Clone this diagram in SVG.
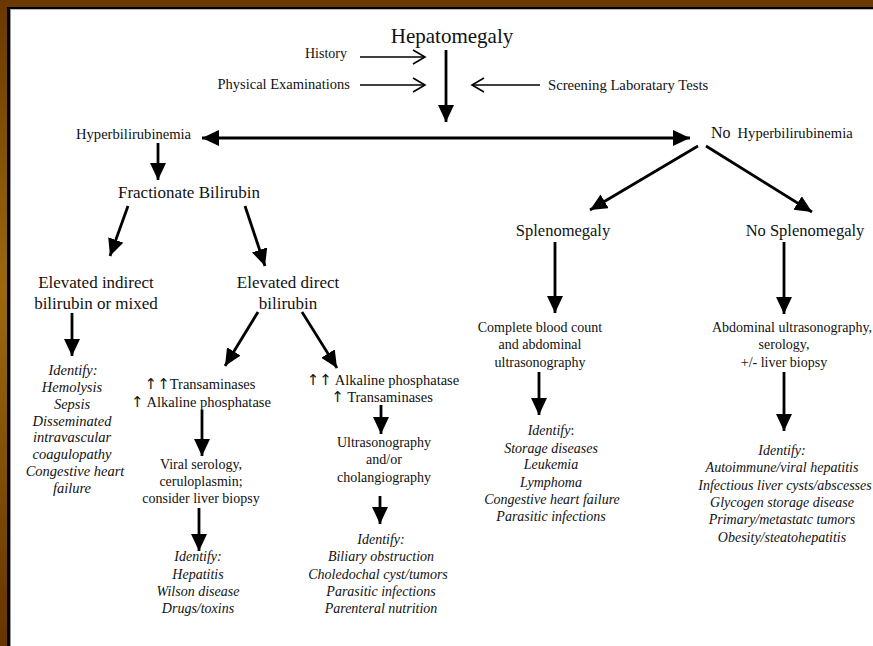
<svg xmlns="http://www.w3.org/2000/svg" width="873" height="646" viewBox="0 0 873 646">
<defs>
<linearGradient id="lb" x1="0" y1="0" x2="0" y2="1">
<stop offset="0" stop-color="#6a3800"/>
<stop offset="0.45" stop-color="#9c6a0c"/>
<stop offset="1" stop-color="#663400"/>
</linearGradient>
<marker id="ah" markerUnits="userSpaceOnUse" markerWidth="20" markerHeight="18" refX="17" refY="8" orient="auto">
<path d="M0,0 L17,8 L0,16 z" fill="#000"/>
</marker>
<marker id="ahs" markerUnits="userSpaceOnUse" markerWidth="20" markerHeight="18" refX="0" refY="8" orient="auto">
<path d="M17,0 L0,8 L17,16 z" fill="#000"/>
</marker>
<marker id="oh" markerUnits="userSpaceOnUse" markerWidth="16" markerHeight="18" refX="13" refY="8" orient="auto">
<path d="M1,1 L13,8 L1,15" fill="none" stroke="#000" stroke-width="1.6"/>
</marker>
</defs>
<style>
text{font-family:"Liberation Serif","Times New Roman",serif;fill:#111}
.it{font-style:italic}
.c{text-anchor:middle}
.e{text-anchor:end}
.up{font-family:"DejaVu Sans",sans-serif;font-size:15px}
.con line{stroke:#000;stroke-width:2.8;marker-end:url(#ah)}
.con line.open{stroke-width:1.6;marker-end:url(#oh)}
</style>
<rect width="873" height="646" fill="#fff"/>
<rect x="0" y="0" width="873" height="7" fill="#6b3a02"/>
<rect x="0" y="0" width="7" height="646" fill="url(#lb)"/>
<rect x="7" y="7" width="866" height="2" fill="#000"/>
<rect x="7" y="7" width="3" height="639" fill="#000"/>
<rect x="10" y="9" width="863" height="1" fill="#bbb"/>
<rect x="10" y="9" width="1" height="637" fill="#999"/>

<g class="con">
<line class="open" x1="360" y1="57" x2="425" y2="57"/>
<line class="open" x1="360" y1="85" x2="425" y2="85"/>
<line class="open" x1="540" y1="85" x2="472" y2="85"/>
<line x1="446" y1="50" x2="446" y2="122"/>
<line x1="202" y1="138" x2="690" y2="138" marker-start="url(#ahs)"/>
<line x1="158" y1="143" x2="158" y2="180"/>
<line x1="128" y1="206" x2="110" y2="256"/>
<line x1="245" y1="206" x2="265" y2="266"/>
<line x1="72" y1="313" x2="72" y2="356"/>
<line x1="258" y1="312" x2="225" y2="366"/>
<line x1="302" y1="312" x2="337" y2="368"/>
<line x1="202" y1="410" x2="202" y2="456"/>
<line x1="199" y1="508" x2="199" y2="551"/>
<line x1="381" y1="405" x2="381" y2="434"/>
<line x1="380" y1="496" x2="380" y2="524"/>
<line x1="698" y1="146" x2="590" y2="210"/>
<line x1="706" y1="146" x2="812" y2="212"/>
<line x1="555" y1="242" x2="555" y2="313"/>
<line x1="539" y1="372" x2="539" y2="415"/>
<line x1="784" y1="242" x2="784" y2="314"/>
<line x1="784" y1="372" x2="784" y2="431"/>
</g>

<g id="hepatomegaly"><text class="c" x="452" y="43" font-size="21">Hepatomegaly</text></g>
<g id="history"><text class="e" x="347" y="58" font-size="14">History</text></g>
<g id="physical"><text class="e" x="350" y="89" font-size="14.5">Physical Examinations</text></g>
<g id="screening"><text x="548" y="90" font-size="14.7">Screening Laboratary Tests</text></g>
<g id="hyper"><text x="76" y="139" font-size="14.6">Hyperbilirubinemia</text></g>
<g id="nohyper"><text x="711" y="138" font-size="16">No <tspan font-size="14.6" dx="3">Hyperbilirubinemia</tspan></text></g>
<g id="fractionate"><text class="c" x="189" y="198" font-size="17">Fractionate Bilirubin</text></g>
<g id="indirect"><text class="c" font-size="17"><tspan x="96" y="288">Elevated indirect</tspan><tspan x="96" y="309">bilirubin or mixed</tspan></text></g>
<g id="direct"><text class="c" font-size="17"><tspan x="288" y="288">Elevated direct</tspan><tspan x="288" y="309">bilirubin</tspan></text></g>
<g id="identify1"><text class="c it" font-size="14.5"><tspan x="73" y="375">Identify:</tspan><tspan x="72" y="392">Hemolysis</tspan><tspan x="72" y="409">Sepsis</tspan><tspan x="72" y="426">Disseminated</tspan><tspan x="72" y="442">intravascular</tspan><tspan x="72" y="459">coagulopathy</tspan><tspan x="75" y="476">Congestive heart</tspan><tspan x="72" y="493">failure</tspan></text></g>
<g id="trans"><text class="c" font-size="14.5"><tspan x="200" y="389"><tspan class="up">↑↑</tspan>Transaminases</tspan><tspan x="201" y="407"><tspan class="up">↑</tspan> Alkaline phosphatase</tspan></text></g>
<g id="alk"><text class="c" font-size="14.5"><tspan x="383" y="385"><tspan class="up">↑↑</tspan> Alkaline phosphatase</tspan><tspan x="382" y="402"><tspan class="up">↑</tspan> Transaminases</tspan></text></g>
<g id="viral"><text class="c" font-size="14"><tspan x="201" y="469">Viral serology,</tspan><tspan x="201" y="486">ceruloplasmin;</tspan><tspan x="201" y="503">consider liver biopsy</tspan></text></g>
<g id="identify2"><text class="c it" font-size="14"><tspan x="198" y="561">Identify:</tspan><tspan x="198" y="579">Hepatitis</tspan><tspan x="198" y="596">Wilson disease</tspan><tspan x="198" y="613">Drugs/toxins</tspan></text></g>
<g id="ultra"><text class="c" font-size="14"><tspan x="384" y="447">Ultrasonography</tspan><tspan x="384" y="464">and/or</tspan><tspan x="384" y="482">cholangiography</tspan></text></g>
<g id="identify3"><text class="c it" font-size="14"><tspan x="381" y="544">Identify:</tspan><tspan x="381" y="561">Biliary obstruction</tspan><tspan x="378" y="579">Choledochal cyst/tumors</tspan><tspan x="381" y="596">Parasitic infections</tspan><tspan x="381" y="613">Parenteral nutrition</tspan></text></g>
<g id="spleno"><text class="c" font-size="16.5" x="563" y="236">Splenomegaly</text></g>
<g id="nospleno"><text class="c" font-size="16.5" x="805" y="236">No Splenomegaly</text></g>
<g id="cbc"><text class="c" font-size="14"><tspan x="540" y="332">Complete blood count</tspan><tspan x="540" y="349">and abdominal</tspan><tspan x="540" y="367">ultrasonography</tspan></text></g>
<g id="identify4"><text class="c it" font-size="14"><tspan x="551" y="435">Identify<tspan font-style="normal">:</tspan></tspan><tspan x="551" y="453">Storage diseases</tspan><tspan x="551" y="469">Leukemia</tspan><tspan x="551" y="487">Lymphoma</tspan><tspan x="552" y="504">Congestive heart failure</tspan><tspan x="551" y="521">Parasitic infections</tspan></text></g>
<g id="abdominal"><text class="c" font-size="14"><tspan x="792" y="332">Abdominal ultrasonography,</tspan><tspan x="784" y="349">serology,</tspan><tspan x="784" y="367">+/- liver biopsy</tspan></text></g>
<g id="identify5"><text class="c it" font-size="14"><tspan x="782" y="455">Identify:</tspan><tspan x="782" y="472">Autoimmune/viral hepatitis</tspan><tspan x="785" y="490">Infectious liver cysts/abscesses</tspan><tspan x="782" y="507">Glycogen storage disease</tspan><tspan x="782" y="524">Primary/metastatc tumors</tspan><tspan x="782" y="542">Obesity/steatohepatitis</tspan></text></g>
</svg>
